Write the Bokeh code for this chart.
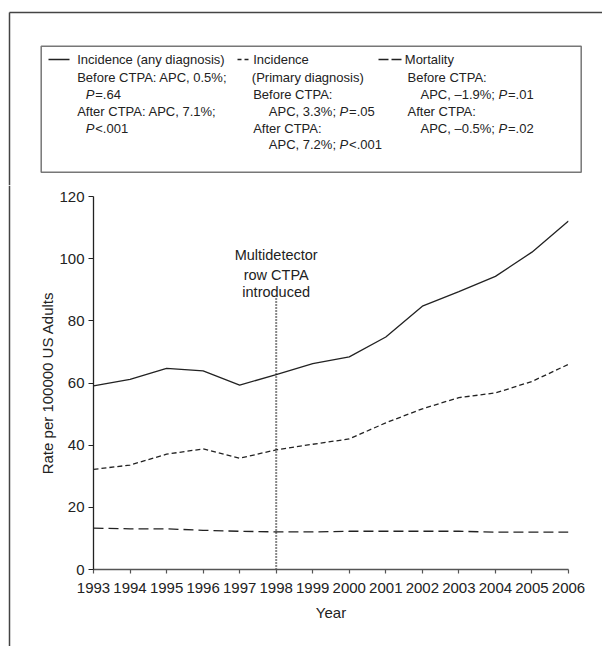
from bokeh.plotting import figure
from bokeh.layouts import column, row
from bokeh.models import Range1d, FixedTicker
from bokeh.core.properties import value
from bokeh.embed import file_html
from bokeh.resources import INLINE

# ---------------- data ----------------
years = [1993, 1994, 1995, 1996, 1997, 1998, 1999, 2000, 2001, 2002, 2003, 2004, 2005, 2006]
incidence_any = [59.1, 61.2, 64.7, 63.9, 59.3, 62.7, 66.2, 68.4, 74.8, 84.7, 89.4, 94.3, 102.1, 112.1]
incidence_primary = [32.2, 33.6, 37.1, 38.8, 35.8, 38.5, 40.3, 42.0, 47.2, 51.7, 55.3, 56.8, 60.5, 66.0]
mortality = [13.3, 13.1, 13.1, 12.6, 12.3, 12.1, 12.1, 12.3, 12.3, 12.3, 12.3, 12.0, 12.0, 12.0]
y_ticks = [0, 20, 40, 60, 80, 100, 120]
ctpa_year = 1998
ctpa_line_top = 87.2
annotation_lines = ["Multidetector", "row CTPA", "introduced"]

FONT = "Liberation Sans"
INK = "#222222"
FRAME = "#444444"

PAGE_W, PAGE_H = 602, 646
TOP_H = 185          # height of the legend strip
STRIP_W = 20         # narrow strip that carries the left frame line
FL, FR, FT, FB = 93, 568, 196, 569   # chart frame edges in page px

# approximate advance widths (Liberation Sans, per 1000 em) for legend layout
ADV = {"A": 667, "P": 667, "C": 722, ",": 278, " ": 278, ".": 278, "%": 889, ";": 278,
       "\u2013": 556, "=": 584, "<": 584}
def tw(s, size):
    return sum(ADV.get(c, 556) for c in s) * size / 1000.0

def no_align(fig):
    try:
        fig.frame_align = False
    except Exception:
        pass

# ---------------- legend strip (top) ----------------
top = figure(width=PAGE_W, height=TOP_H, output_backend="svg", toolbar_location=None,
             x_range=Range1d(0, PAGE_W), y_range=Range1d(TOP_H, 0),
             x_axis_location=None, y_axis_location=None,
             min_border=0, min_border_left=0, min_border_right=0,
             min_border_top=0, min_border_bottom=0)
top.outline_line_color = None
top.grid.visible = False
no_align(top)

# outer frame: top and left
top.segment(x0=[9, 9], y0=[12, 12], x1=[PAGE_W, 9], y1=[12, TOP_H],
            line_color=FRAME, line_width=1.5)
# legend box
top.quad(left=[40.7], right=[580.7], top=[45.7], bottom=[171.7],
         fill_color=None, line_color="#777777", line_width=1.5)
# legend samples
top.segment(x0=[48], y0=[59], x1=[69], y1=[59], line_color=INK, line_width=1.3)
top.segment(x0=[237], y0=[59], x1=[249], y1=[59], line_color=INK, line_width=1.3, line_dash="4 3")
top.segment(x0=[378], y0=[59], x1=[401], y1=[59], line_color=INK, line_width=1.3, line_dash="10 3")

LS = 13
normal_t, normal_x, normal_y = [], [], []
ital_t, ital_x, ital_y = [], [], []

def add(t, x, y):
    normal_t.append(t); normal_x.append(x); normal_y.append(y)

def add_p(prefix, rest, x, y):
    """prefix (normal) + italic P + rest (normal)"""
    px = x
    if prefix:
        add(prefix, x, y)
        px = x + tw(prefix, LS)
    ital_t.append("P"); ital_x.append(px); ital_y.append(y)
    add(rest, px + tw("P", LS) + 0.8, y)

rows_y = [59, 77.3, 94, 110.7, 127.7, 144.3]
# column 1
add("Incidence (any diagnosis)", 76.7, rows_y[0])
add("Before CTPA: APC, 0.5%;", 76.7, rows_y[1])
add_p("", "=.64", 85.3, rows_y[2])
add("After CTPA: APC, 7.1%;", 76.7, rows_y[3])
add_p("", "<.001", 85.3, rows_y[4])
# column 2
add("Incidence", 252.7, rows_y[0])
add("(Primary diagnosis)", 251.3, rows_y[1])
add("Before CTPA:", 252.7, rows_y[2])
add_p("APC, 3.3%; ", "=.05", 268.3, rows_y[3])
add("After CTPA:", 252.7, rows_y[4])
add_p("APC, 7.2%; ", "<.001", 268.3, rows_y[5])
# column 3
add("Mortality", 404.3, rows_y[0])
add("Before CTPA:", 407.0, rows_y[1])
add_p("APC, \u20131.9%; ", "=.01", 420, rows_y[2])
add("After CTPA:", 407.0, rows_y[3])
add_p("APC, \u20130.5%; ", "=.02", 420, rows_y[4])

top.text(x=normal_x, y=normal_y, text=normal_t, text_font=value(FONT),
         text_font_size=f"{LS}px", text_color=INK, text_align="left", text_baseline="middle")
top.text(x=ital_x, y=ital_y, text=ital_t, text_font=value(FONT), text_font_style="italic",
         text_font_size=f"{LS}px", text_color=INK, text_align="left", text_baseline="middle")

# ---------------- left strip (frame line) ----------------
BOT_H = PAGE_H - TOP_H
strip = figure(width=STRIP_W, height=BOT_H, output_backend="svg", toolbar_location=None,
               x_range=Range1d(0, STRIP_W), y_range=Range1d(PAGE_H, TOP_H),
               x_axis_location=None, y_axis_location=None,
               min_border=0, min_border_left=0, min_border_right=0,
               min_border_top=0, min_border_bottom=0)
strip.outline_line_color = None
strip.grid.visible = False
no_align(strip)
strip.segment(x0=[9], y0=[TOP_H], x1=[9], y1=[PAGE_H], line_color=FRAME, line_width=1.5)

# ---------------- chart ----------------
CW = PAGE_W - STRIP_W
p = figure(width=CW, height=BOT_H, output_backend="svg", toolbar_location=None,
           x_range=Range1d(1993, 2006), y_range=Range1d(0, 120),
           min_border_left=FL - STRIP_W, min_border_right=PAGE_W - FR,
           min_border_top=FT - TOP_H, min_border_bottom=PAGE_H - FB)
p.outline_line_color = None
p.xgrid.visible = False
p.ygrid.visible = False
no_align(p)

p.xaxis.ticker = FixedTicker(ticks=years)
p.yaxis.ticker = FixedTicker(ticks=y_ticks)
for ax in (p.xaxis, p.yaxis):
    ax.minor_tick_line_color = None
    ax.major_tick_in = 0
    ax.major_label_text_font = FONT
    ax.major_label_text_font_size = "15px"
    ax.major_label_text_color = INK
    ax.axis_label_text_font = FONT
    ax.axis_label_text_font_size = "15px"
    ax.axis_label_text_font_style = "normal"
    ax.axis_label_text_color = INK
    ax.axis_line_width = 1.3
    ax.major_tick_line_width = 1.2
p.xaxis.major_tick_out = 4
p.yaxis.major_tick_out = 5
p.xaxis.axis_line_color = "#555555"
p.xaxis.major_tick_line_color = "#555555"
p.yaxis.axis_line_color = INK
p.yaxis.major_tick_line_color = INK
p.xaxis.major_label_standoff = 9
p.yaxis.major_label_standoff = 4
p.xaxis.axis_label = "Year"
p.yaxis.axis_label = "Rate per 100000 US Adults"
p.xaxis.axis_label_standoff = 8
p.yaxis.axis_label_standoff = 0

p.line(years, incidence_any, line_color=INK, line_width=1.3)
p.line(years, incidence_primary, line_color=INK, line_width=1.3, line_dash="5 3")
p.line(years, mortality, line_color=INK, line_width=1.3, line_dash="10 5")

# CTPA introduction marker
def ydata(py):
    return (FB - py) / (FB - FT) * 120.0

p.line([ctpa_year, ctpa_year], [0, ctpa_line_top], line_color="#111111", line_width=2, line_dash="1 2")
p.text(x=[ctpa_year] * 3, y=[ydata(254.7), ydata(274), ydata(291)], text=annotation_lines,
       text_align="center", text_baseline="alphabetic", text_color=INK,
       text_font=value(FONT), text_font_size="14.5px")

layout = column(top, row(strip, p, spacing=0), spacing=0)
open("out.html", "w").write(file_html(layout, INLINE))
